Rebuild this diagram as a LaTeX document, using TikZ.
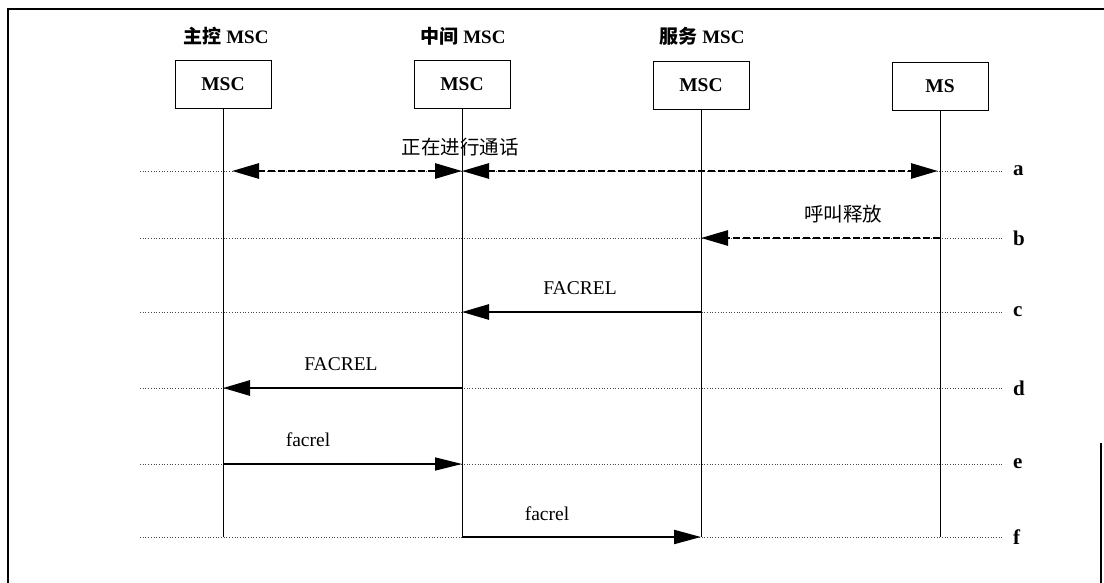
\documentclass[tikz,border=0pt]{standalone}
\usepackage{fontspec}
\setmainfont{Liberation Serif}
\newfontfamily\cjk{Noto Sans CJK SC}
\usetikzlibrary{arrows.meta,positioning}
\definecolor{Ink}{HTML}{000000}
\definecolor{Guide}{HTML}{4A4A4A}
\tikzset{
  entity/.style={draw=Ink,thick,minimum width=96pt,minimum height=48pt,inner sep=0pt,font=\fontsize{19.5}{21}\selectfont\bfseries,text=Ink},
  title/.style={font=\fontsize{19}{21}\selectfont\bfseries,text=Ink},
  life/.style={draw=Ink,line width=1pt},
  guide/.style={draw=Guide,dotted,line width=0.7pt},
  rowlabel/.style={font=\fontsize{21}{22}\selectfont\bfseries,anchor=west,inner sep=0pt},
  msglabel/.style={font=\fontsize{19.5}{21}\selectfont,text=Ink},
  bigArrow/.style={-{Triangle[length=27pt,width=15pt]},line width=2.8pt,draw=Ink},
  dashArrow/.style={bigArrow,dash pattern=on 7pt off 3pt},
  twoWay/.style={{Triangle[length=27pt,width=15pt]}-{Triangle[length=27pt,width=15pt]},line width=2.8pt,draw=Ink,dash pattern=on 7pt off 3pt},
  thinArrow/.style={-{Triangle[length=27pt,width=13pt]},line width=1.5pt,draw=Ink},
  midArrow/.style={-{Triangle[length=27pt,width=14pt]},line width=2.1pt,draw=Ink}
}
\begin{document}
\begin{tikzpicture}[x=1pt,y=-1pt]
\useasboundingbox (0,0) rectangle (1104,583);
% frame
\draw[line width=2pt] (8,583) -- (8,9) -- (1104,9);
\draw[line width=1.5pt] (1101,443) -- (1101,583);
% entities
\node[entity] (mscA) at (223,84) {MSC};
\node[entity] (mscB) at (462,84) {MSC};
\node[entity] (mscC) at (701,85) {MSC};
\node[entity] (ms) at (940,86) {MS};
\node[title] (tA) at (226,36) {{\cjk 主控} MSC};
\node[title] (tB) at (463,36) {{\cjk 中间} MSC};
\node[title] (tC) at (702,36) {{\cjk 服务} MSC};
% rows
\coordinate (ra) at (140,171);
\coordinate (rb) at (140,238);
\coordinate (rc) at (140,312);
\coordinate (rd) at (140,388);
\coordinate (re) at (140,464);
\coordinate (rf) at (140,537);
\node[rowlabel] (la) at (1013,171) {a};
\node[rowlabel] (lb) at (1013,238) {b};
\node[rowlabel] (lc) at (1013,312) {c};
\node[rowlabel] (ld) at (1013,388) {d};
\node[rowlabel] (le) at (1013,464) {e};
\node[rowlabel] (lf) at (1013,537) {f};
\foreach \r/\l in {ra/la,rb/lb,rc/lc,rd/ld,re/le,rf/lf}
  \draw[guide] (\r) -- ([xshift=-10pt]\l.west);
% lifelines
\foreach \e in {mscA,mscB,mscC,ms}
  \draw[life] (\e.south) -- (\e |- rf);
% messages
\draw[twoWay,shorten <=9pt] (mscA |- ra) -- (mscB |- ra);
\draw[twoWay,shorten >=2pt] (mscB |- ra) -- (ms |- ra);
\node[msglabel] (ma) at (460,147) {\cjk 正在进行通话};
\draw[dashArrow] (ms |- rb) -- (mscC |- rb);
\node[msglabel] (mb) at (843,214) {\cjk 呼叫释放};
\draw[bigArrow] (mscC |- rc) -- (mscB |- rc);
\node[msglabel] (mc) at (580,288) {FACREL};
\draw[bigArrow] (mscB |- rd) -- (mscA |- rd);
\node[msglabel] (md) at (341,364) {FACREL};
\draw[thinArrow] (mscA |- re) -- (mscB |- re);
\node[msglabel] (me) at (308,440) {facrel};
\draw[midArrow] (mscB |- rf) -- (mscC |- rf);
\node[msglabel] (mf) at (547,514) {facrel};
\end{tikzpicture}
\end{document}
